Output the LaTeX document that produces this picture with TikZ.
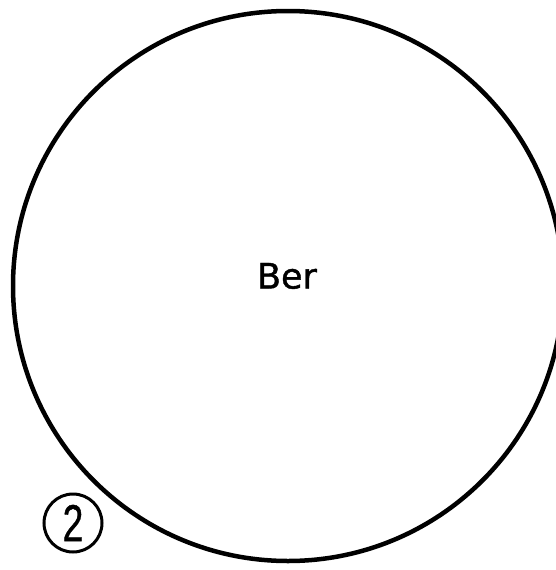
\documentclass[tikz,border=0pt]{standalone}
\usepackage{fontspec}
\setmainfont{DejaVu Sans}
\newfontfamily\berfont[FakeBold=1.2]{DejaVu Sans}
\newfontfamily\digitfont[FakeBold=0.8]{Liberation Sans}
\begin{document}
\begin{tikzpicture}[x=1pt,y=-1pt,
  ring/.style={draw=black, circle, line width=4.5pt, inner sep=0pt, outer sep=0pt, minimum size=550pt},
  label/.style={inner sep=0pt, font=\berfont\fontsize{35}{40}\selectfont},
  numring/.style={draw=black, circle, line width=3pt, inner sep=0pt, minimum size=58pt,
    font=\digitfont\fontsize{52}{56}\selectfont}]
\useasboundingbox (0,0) rectangle (555,570);
\fill[white] (0,0) rectangle (555,570);
\node[ring] (main) at (288,286) {};
\node[label] (name) at (287,276) {Ber};
\node[numring] (num) at (73,523) {\scalebox{0.72}[1]{2}};
\end{tikzpicture}
\end{document}
